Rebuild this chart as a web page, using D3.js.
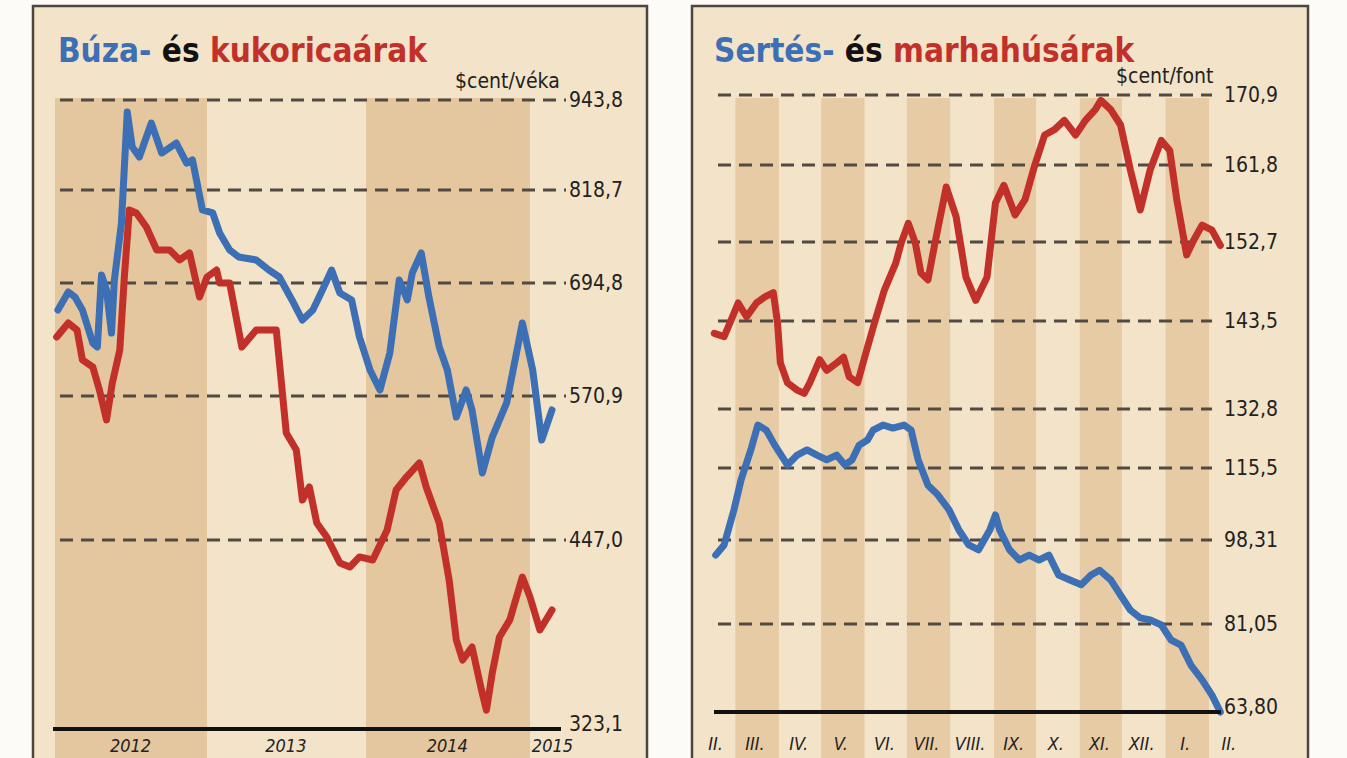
<!DOCTYPE html>
<html>
<head>
<meta charset="utf-8">
<script src="https://cdn.jsdelivr.net/npm/d3@7"></script>
<style>
  body { margin: 0; background: #fdfbf7; }
  svg { display: block; }
  text { font-family: "Liberation Sans Narrow", "DejaVu Sans Condensed", "Roboto Condensed", sans-serif; }
</style>
</head>
<body>
<svg width="1347" height="758"></svg>
<script>
// ---- data ----
const wheat = [
  ["2012-01-08",665.2],["2012-02-02",684.9],["2012-02-18",679.4],["2012-03-07",665.2],["2012-04-01",629.0],
  ["2012-04-12",624.6],["2012-04-22",705.5],["2012-05-04",687.1],["2012-05-16",640.0],["2012-05-23",698.8],
  ["2012-06-09",774.7],["2012-06-23",927.1],["2012-07-05",878.5],["2012-07-22",864.6],["2012-08-20",911.8],
  ["2012-09-14",870.1],["2012-10-19",884.0],["2012-11-13",856.2],["2012-11-27",860.5],["2012-12-21",792.1],
  ["2013-01-14",788.1],["2013-01-30",761.4],["2013-02-22",738.8],["2013-03-15",729.5],["2013-04-24",725.5],
  ["2013-05-23",712.1],["2013-06-16",702.8],["2013-07-15",676.2],["2013-08-08",654.2],["2013-09-01",665.2],
  ["2013-09-23",687.1],["2013-10-14",712.1],["2013-11-02",683.8],["2013-11-29",676.2],["2013-12-17",635.6],
  ["2014-01-10",599.4],["2014-02-01",577.5],["2014-02-23",618.0],["2014-03-16",698.8],["2014-04-03",676.2],
  ["2014-04-14",708.1],["2014-05-04",734.8],["2014-05-21",679.4],["2014-06-13",624.6],["2014-07-01",599.4],
  ["2014-07-21",552.8],["2014-08-12",577.5],["2014-08-25",558.9],["2014-09-17",504.7],["2014-10-09",535.6],
  ["2014-11-10",564.9],["2014-12-15",650.9],["2015-01-07",599.4],["2015-01-27",533.0],["2015-02-19",558.9]
]
const corn = [
  ["2012-01-05",635.6],["2012-02-02",650.9],["2012-02-23",643.3],["2012-03-07",610.4],["2012-04-01",602.7],
  ["2012-04-17",577.5],["2012-05-04",550.3],["2012-05-18",585.2],["2012-06-05",621.3],["2012-06-16",702.8],
  ["2012-06-28",792.1],["2012-07-15",788.1],["2012-08-08",769.4],["2012-09-02",738.8],["2012-10-03",738.8],
  ["2012-10-27",725.5],["2012-11-20",734.8],["2012-12-14",679.4],["2013-01-01",702.8],["2013-01-23",712.1],
  ["2013-01-30",694.8],["2013-02-22",694.8],["2013-03-22",624.6],["2013-04-24",643.3],["2013-05-17",643.3],
  ["2013-06-09",643.3],["2013-07-02",539.1],["2013-07-25",524.4],["2013-08-08",481.4],["2013-08-24",492.6],
  ["2013-09-10",461.6],["2013-10-03",449.6],["2013-11-02",431.9],["2013-11-25",429.3],["2013-12-17",435.9],
  ["2014-01-16",433.9],["2014-02-17",455.6],["2014-03-09",490.0],["2014-04-01",501.2],["2014-04-30",513.3],
  ["2014-05-15",492.6],["2014-06-13",461.6],["2014-07-05",420.8],["2014-07-21",381.4],["2014-08-04",368.3],
  ["2014-08-25",376.9],["2014-09-15",348.7],["2014-09-26",335.5],["2014-10-09",359.8],["2014-10-25",383.4],
  ["2014-11-17",394.6],["2014-12-15",422.7],["2015-01-01",409.6],["2015-01-23",388.0],["2015-02-19",401.1]
]
const beef = [
  ["2014-02-14",142.0],["2014-02-21",141.6],["2014-02-27",144.0],["2014-03-03",145.6],["2014-03-09",144.0],
  ["2014-03-16",145.6],["2014-03-22",146.3],["2014-03-28",146.8],["2014-03-31",143.3],["2014-04-02",138.4],
  ["2014-04-07",136.0],["2014-04-14",135.1],["2014-04-19",134.7],["2014-04-23",136.0],["2014-04-30",138.8],
  ["2014-05-05",137.5],["2014-05-12",138.4],["2014-05-17",139.1],["2014-05-21",136.7],["2014-05-27",136.0],
  ["2014-06-01",139.1],["2014-06-08",143.3],["2014-06-15",147.1],["2014-06-23",150.2],["2014-06-27",152.6],
  ["2014-07-02",154.9],["2014-07-07",152.6],["2014-07-11",149.1],["2014-07-16",148.3],["2014-07-21",152.6],
  ["2014-07-29",159.2],["2014-08-05",155.7],["2014-08-12",148.6],["2014-08-19",145.9],["2014-08-27",148.6],
  ["2014-09-02",157.3],["2014-09-08",159.4],["2014-09-16",155.9],["2014-09-23",157.7],["2014-09-30",161.8],
  ["2014-10-07",165.7],["2014-10-14",166.4],["2014-10-21",167.6],["2014-10-29",165.7],["2014-11-05",167.6],
  ["2014-11-12",169.0],["2014-11-16",170.2],["2014-11-23",169.0],["2014-11-30",167.0],["2014-12-07",161.2],
  ["2014-12-14",156.5],["2014-12-21",161.2],["2014-12-29",165.0],["2015-01-04",163.7],["2015-01-09",157.7],
  ["2015-01-16",151.2],["2015-01-21",152.9],["2015-01-27",154.7],["2015-02-03",154.1],["2015-02-09",152.3]
]
const pork = [
  ["2014-02-15",95.2],["2014-02-21",97.3],["2014-02-28",105.5],["2014-03-05",112.6],["2014-03-12",120.8],
  ["2014-03-17",128.1],["2014-03-23",126.6],["2014-03-29",122.2],["2014-04-07",116.4],["2014-04-14",119.3],
  ["2014-04-21",120.8],["2014-04-28",119.3],["2014-05-05",117.9],["2014-05-12",119.3],["2014-05-18",116.4],
  ["2014-05-23",117.9],["2014-05-28",122.2],["2014-06-03",123.7],["2014-06-07",126.6],["2014-06-14",128.1],
  ["2014-06-21",127.2],["2014-06-29",128.1],["2014-07-04",126.6],["2014-07-09",117.9],["2014-07-16",111.4],
  ["2014-07-23",109.1],["2014-07-31",105.5],["2014-08-07",100.7],["2014-08-14",97.3],["2014-08-21",96.3],
  ["2014-08-29",100.7],["2014-09-02",104.3],["2014-09-05",100.7],["2014-09-12",96.3],["2014-09-19",94.2],
  ["2014-09-26",95.2],["2014-10-03",94.2],["2014-10-10",95.2],["2014-10-17",91.1],["2014-10-25",90.1],
  ["2014-11-02",89.1],["2014-11-09",91.1],["2014-11-15",92.1],["2014-11-23",90.1],["2014-11-30",87.0],
  ["2014-12-07",83.9],["2014-12-14",82.3],["2014-12-21",81.9],["2014-12-29",80.85],["2015-01-05",77.9],
  ["2015-01-12",76.9],["2015-01-19",73.0],["2015-01-27",70.1],["2015-02-03",67.1],["2015-02-09",63.8]
]

const leftTicks = [323.1, 447.0, 570.9, 694.8, 818.7, 943.8]
const leftTickLabels = ["323,1", "447,0", "570,9", "694,8", "818,7", "943,8"]
const rightTicks = [63.80, 81.05, 98.31, 115.5, 132.8, 143.5, 152.7, 161.8, 170.9]
const rightTickLabels = ["63,80", "81,05", "98,31", "115,5", "132,8", "143,5", "152,7", "161,8", "170,9"]
const yearLabels = ["2012", "2013", "2014", "2015"]
const yearLabelDates = ["2012-07-01", "2013-07-01", "2014-07-01", "2015-02-20"]
const monthLabels = ["II.", "III.", "IV.", "V.", "VI.", "VII.", "VIII.", "IX.", "X.", "XI.", "XII.", "I.", "II."]

const BLUE = "#3c6fb4"
const RED = "#c2302a"
const parse = d3.timeParse("%Y-%m-%d")
const svg = d3.select("svg")

function frame(x0, x1){
    svg.append("rect")
        .attr("x", x0).attr("y", 6)
        .attr("width", x1 - x0).attr("height", 780)
        .attr("fill", "#f3e3c9")
        .attr("stroke", "#4b4640")
        .attr("stroke-width", 2.5)
}

function title(x, parts){
    const t = svg.append("text")
        .attr("x", x).attr("y", 62)
        .style("font-size", "33px")
        .style("font-weight", "bold")
    parts.forEach(p => {
        t.append("tspan").text(p[0]).attr("fill", p[1])
    })
}

function gridAndLabels(yScale, ticks, labels, x0, x1, labelX){
    svg.append("g")
        .selectAll("line")
        .data(ticks.slice(1))
        .enter()
        .append("line")
        .attr("x1", x0).attr("x2", x1)
        .attr("y1", d => yScale(d)).attr("y2", d => yScale(d))
        .attr("stroke", "#524a42")
        .attr("stroke-width", 3)
        .attr("stroke-dasharray", "13,8")

    svg.append("g")
        .selectAll("text")
        .data(ticks)
        .enter()
        .append("text")
        .attr("x", labelX)
        .attr("y", (d, i) => yScale(d) + (i == 0 ? 2 : 7))
        .text((d, i) => labels[i])
        .style("font-size", "21px")
        .attr("fill", "#222")
}

function addLine(data, xScale, yScale, color){
    const line = d3.line()
        .x(d => xScale(parse(d[0])))
        .y(d => yScale(d[1]))
    svg.append("path")
        .attr("d", line(data))
        .attr("fill", "none")
        .attr("stroke", color)
        .attr("stroke-width", 7)
        .attr("stroke-linejoin", "round")
        .attr("stroke-linecap", "round")
}

// ---------- left panel: wheat and corn ----------
function leftPanel(){
    frame(33, 647)

    const xScale = d3.scaleTime()
        .domain(["2012-01-01", "2013-01-01", "2014-01-01", "2015-01-01", "2016-01-01"].map(parse))
        .range([55, 207, 366, 530, 694])
    const yScale = d3.scaleLinear()
        .domain(leftTicks)
        .range([729, 540, 396, 283, 190, 100])

    // year bands
    const years = d3.timeYear.range(parse("2012-01-01"), parse("2015-01-01"))
    svg.append("g")
        .selectAll("rect")
        .data(years.filter((d, i) => i % 2 == 0))
        .enter()
        .append("rect")
        .attr("x", d => xScale(d))
        .attr("width", d => xScale(d3.timeYear.offset(d, 1)) - xScale(d))
        .attr("y", 98)
        .attr("height", 660)
        .attr("fill", "#e4c69f")

    title(58, [["Búza-", BLUE], [" és ", "#111"], ["kukoricaárak", RED]])
    svg.append("text").attr("x", 455).attr("y", 88).text("$cent/véka")
        .style("font-size", "21px").attr("fill", "#222")

    gridAndLabels(yScale, leftTicks, leftTickLabels, 60, 566, 569)

    addLine(corn, xScale, yScale, RED)
    addLine(wheat, xScale, yScale, BLUE)

    const xAxis = d3.axisBottom(xScale).tickValues([]).tickSizeOuter(0)
    const g = svg.append("g").attr("transform", "translate(0," + yScale(leftTicks[0]) + ")").call(xAxis)
    g.select("path.domain").attr("d", "M53,0H561").attr("stroke", "#111").attr("stroke-width", 4)

    svg.append("g")
        .selectAll("text")
        .data(yearLabelDates)
        .enter()
        .append("text")
        .attr("x", d => xScale(parse(d)))
        .attr("y", 752)
        .attr("text-anchor", "middle")
        .style("font-size", "18px")
        .style("font-style", "italic")
        .attr("fill", "#222")
        .text((d, i) => yearLabels[i])
}

// ---------- right panel: pork and beef ----------
function rightPanel(){
    frame(692, 1308)

    const xScale = d3.scaleTime()
        .domain([parse("2014-02-01"), parse("2015-03-01")])
        .range([696, 1248.5])
    const yScale = d3.scaleLinear()
        .domain(rightTicks)
        .range([712, 624, 540, 468, 409, 321, 242, 165, 95])

    const months = d3.timeMonth.range(parse("2014-02-01"), parse("2015-03-01"))
    svg.append("g")
        .selectAll("rect")
        .data(months)
        .enter()
        .append("rect")
        .attr("x", d => xScale(d))
        .attr("width", d => xScale(d3.timeMonth.offset(d, 1)) - xScale(d))
        .attr("y", 98)
        .attr("height", 660)
        .attr("fill", (d, i) => i % 2 == 1 ? "#e7cba5" : "#f3e3c9")

    title(714, [["Sertés-", BLUE], [" és ", "#111"], ["marhahúsárak", RED]])
    svg.append("text").attr("x", 1116).attr("y", 83).text("$cent/font")
        .style("font-size", "21px").attr("fill", "#222")

    gridAndLabels(yScale, rightTicks, rightTickLabels, 718, 1212, 1224)

    addLine(beef, xScale, yScale, RED)
    addLine(pork, xScale, yScale, BLUE)

    const xAxis = d3.axisBottom(xScale).tickValues([]).tickSizeOuter(0)
    const g = svg.append("g").attr("transform", "translate(0," + yScale(rightTicks[0]) + ")").call(xAxis)
    g.select("path.domain").attr("d", "M714,0H1221").attr("stroke", "#111").attr("stroke-width", 4)

    svg.append("g")
        .selectAll("text")
        .data(months)
        .enter()
        .append("text")
        .attr("x", d => xScale(d3.timeDay.offset(d, 14)))
        .attr("y", 750)
        .attr("text-anchor", "middle")
        .style("font-size", "18px")
        .style("font-style", "italic")
        .attr("fill", "#222")
        .text((d, i) => monthLabels[i])
}

leftPanel()
rightPanel()
</script>
</body>
</html>
